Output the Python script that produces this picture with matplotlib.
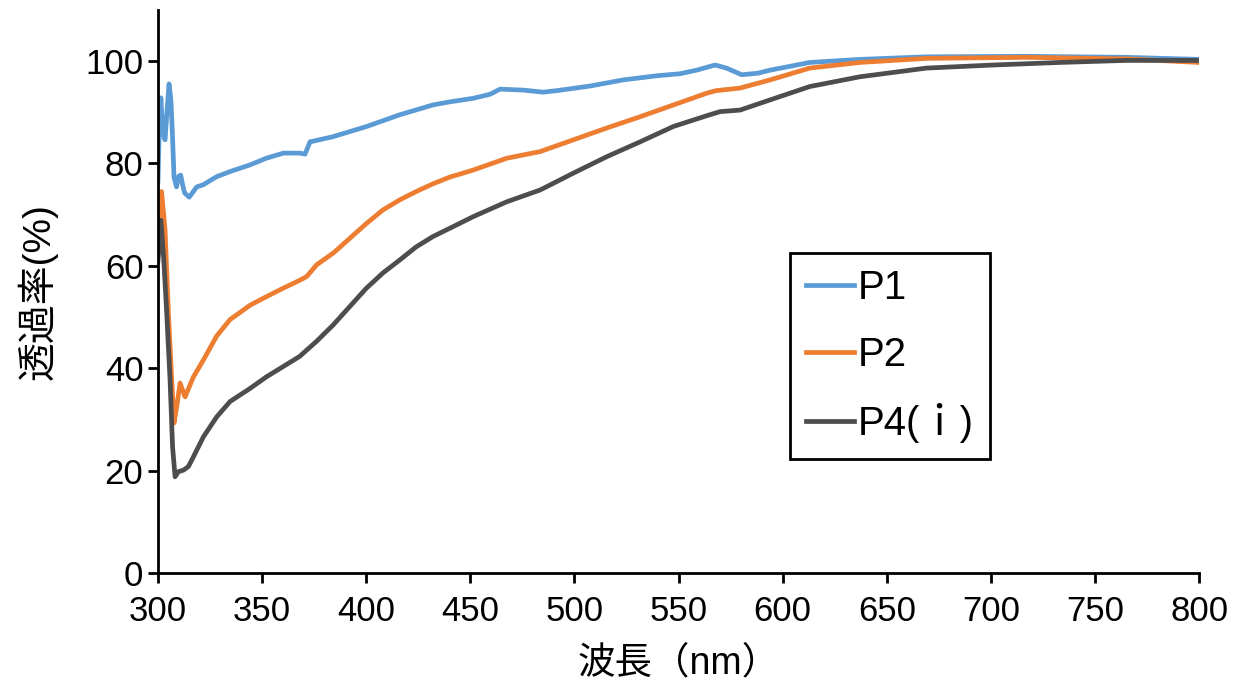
import matplotlib
matplotlib.use('Agg')
import matplotlib.pyplot as plt

plt.rcParams['font.family'] = ['Liberation Sans', 'Noto Sans CJK JP']

# P1
p1_nm = [300.0, 300.7, 301.4, 302.3, 303.4, 304.3, 305.3, 306.2, 307.0, 307.7, 308.9, 310.0,
         310.9, 312.0, 312.8, 315.0, 318.6, 321.6, 328.2, 334.6, 344.2, 352.0, 360.2, 368.2,
         370.6, 373.0, 384.0, 400.2, 416.2, 432.0, 440.0, 451.4, 459.5, 464.3, 475.4, 485.0,
         491.5, 507.5, 523.5, 539.5, 550.7, 558.7, 567.5, 573.0, 580.3, 588.0, 594.0, 613.0,
         637.0, 669.0, 717.0, 765.0, 800.0]
p1_t = [76.5, 88.0, 92.8, 86.0, 84.6, 90.0, 95.5, 92.4, 85.0, 77.3, 75.4, 77.5,
        77.7, 75.5, 74.2, 73.4, 75.4, 75.8, 77.4, 78.4, 79.7, 81.0, 82.0, 82.0,
        81.8, 84.2, 85.2, 87.2, 89.5, 91.4, 92.0, 92.7, 93.5, 94.5, 94.3, 93.9,
        94.2, 95.1, 96.3, 97.1, 97.5, 98.2, 99.2, 98.6, 97.3, 97.6, 98.2, 99.7,
        100.3, 100.8, 100.9, 100.7, 100.3]

# P2
p2_nm = [300.0, 300.8, 301.7, 302.5, 303.4, 305.0, 306.6, 307.7, 309.0, 310.6, 312.0, 313.0,
         317.0, 321.8, 328.2, 334.6, 344.2, 352.2, 360.0, 368.2, 371.4, 376.2, 384.2, 392.2,
         400.2, 408.0, 416.2, 424.0, 432.0, 440.0, 451.4, 467.5, 483.5, 499.5, 515.5, 531.5,
         547.5, 563.5, 568.0, 579.5, 594.0, 613.0, 637.0, 669.0, 717.0, 765.0, 800.0]
p2_t = [67.0, 71.0, 74.5, 71.0, 67.0, 50.7, 37.7, 29.3, 32.5, 37.1, 35.5, 34.4,
        38.3, 41.6, 46.3, 49.5, 52.3, 54.0, 55.6, 57.2, 57.9, 60.2, 62.5, 65.4,
        68.3, 70.9, 72.9, 74.5, 76.0, 77.3, 78.7, 81.0, 82.3, 84.6, 86.9, 89.1,
        91.4, 93.7, 94.2, 94.7, 96.3, 98.6, 99.7, 100.5, 100.7, 100.4, 99.7]

# P4(i)
p4_nm = [300.0, 301.4, 302.8, 304.2, 305.8, 307.0, 308.2, 309.8, 312.2, 314.6, 317.0, 321.8,
         328.2, 334.6, 344.0, 352.0, 368.0, 376.0, 384.0, 392.0, 400.0, 408.0, 416.0, 424.0,
         432.0, 440.0, 451.4, 467.5, 483.5, 499.5, 515.5, 531.5, 547.5, 563.5, 569.9, 579.5,
         594.0, 613.0, 637.0, 669.0, 701.0, 733.0, 765.0, 800.0]
p4_t = [61.0, 68.9, 61.0, 50.7, 37.7, 24.7, 18.8, 19.8, 20.1, 20.8, 22.7, 26.6,
        30.5, 33.5, 36.0, 38.3, 42.3, 45.2, 48.4, 52.0, 55.6, 58.6, 61.1, 63.7,
        65.7, 67.3, 69.6, 72.5, 74.8, 78.1, 81.3, 84.2, 87.2, 89.3, 90.1, 90.4,
        92.4, 95.0, 96.9, 98.6, 99.2, 99.7, 100.1, 100.1]

series = [("P1", p1_nm, p1_t, '#5B9BD5'),
          ("P2", p2_nm, p2_t, '#ED7D31'),
          ("P4(ｉ)", p4_nm, p4_t, '#4D4D4D')]

fig = plt.figure(figsize=(12.44, 6.93), dpi=100)
ax = fig.add_axes([0.127, 0.173, 0.837, 0.813])

for name, x, y, c in series:
    ax.plot(x, y, color=c, linewidth=3.4, label=name, solid_joinstyle='round')

ax.set_xlim(300, 800)
ax.set_ylim(0, 110)
ax.set_xticks(range(300, 801, 50))
ax.set_yticks(range(0, 101, 20))
ax.spines['top'].set_visible(False)
ax.spines['right'].set_visible(False)
for s in ('left', 'bottom'):
    ax.spines[s].set_linewidth(2)
ax.tick_params(direction='out', length=7, width=2, labelsize=25)
ax.tick_params(axis='x', pad=9)

ax.set_xlabel('波長（nm）', fontsize=27, labelpad=12)
ax.set_ylabel('透過率(%)', fontsize=28, labelpad=20)

leg = ax.legend(loc='upper left', bbox_to_anchor=(0.607, 0.568), fontsize=29,
                frameon=True, fancybox=False, edgecolor='black', framealpha=1,
                handlelength=1.2, handletextpad=0.08, labelspacing=0.72,
                borderpad=0.4, borderaxespad=0)
leg.get_frame().set_linewidth(2)

fig.savefig('out.png', dpi=100)
